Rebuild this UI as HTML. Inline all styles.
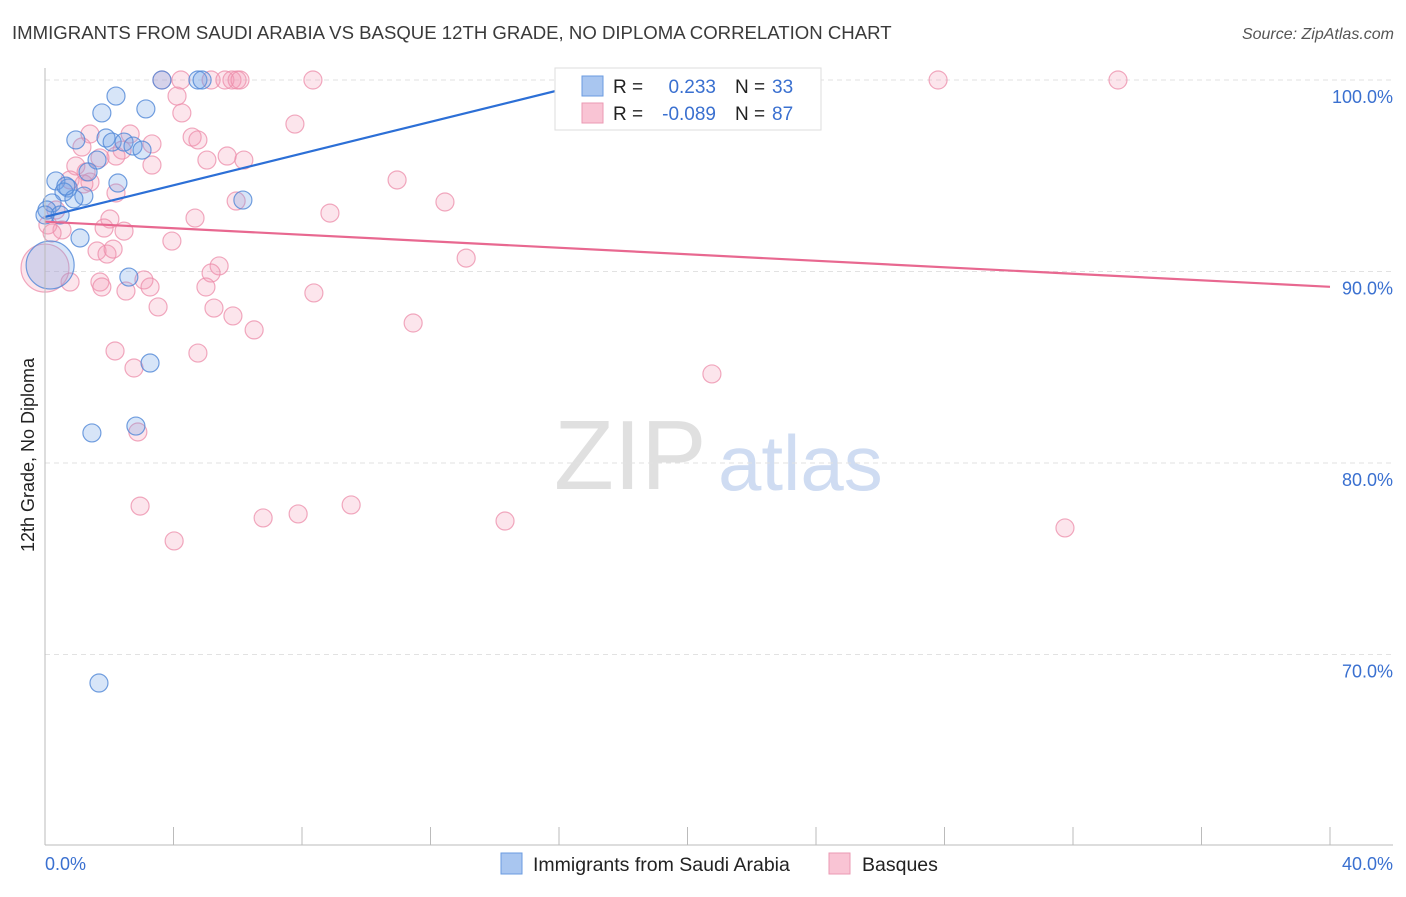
<!DOCTYPE html>
<html><head><meta charset="utf-8"><style>
body{margin:0;background:#fff;font-family:"Liberation Sans",sans-serif}
svg text{font-family:"Liberation Sans",sans-serif}
</style></head><body>
<svg id="c" width="1406" height="892" xmlns="http://www.w3.org/2000/svg">
<text x="12" y="39" font-size="18.6" fill="#3a3a3a">IMMIGRANTS FROM SAUDI ARABIA VS BASQUE 12TH GRADE, NO DIPLOMA CORRELATION CHART</text>
<text x="1394" y="39" font-size="16" fill="#555" font-style="italic" text-anchor="end">Source: ZipAtlas.com</text>
<text x="554" y="489" font-size="98" fill="#e0e0e0" font-family="Liberation Serif,serif">ZIP</text>
<text x="718" y="490" font-size="78" fill="#cfdcf2">atlas</text>
<g id="grid"></g><g id="pts"></g><g id="lines"></g>
<line x1="45" y1="68" x2="45" y2="845" stroke="#bbb"/>
<line x1="45" y1="845" x2="1393" y2="845" stroke="#bbb"/>
<text transform="translate(34,455) rotate(-90)" font-size="18" fill="#222" text-anchor="middle">12th Grade, No Diploma</text>
<text x="45" y="870" font-size="18" fill="#3a70d0">0.0%</text>
<text x="1393" y="870" font-size="18" fill="#3a70d0" text-anchor="end">40.0%</text>
<g>
<rect x="555" y="68" width="266" height="62" fill="#fff" stroke="#ddd"/>
<rect x="582" y="76" width="21" height="20" fill="#a9c6f0" stroke="#6a9be0"/>
<rect x="582" y="103" width="21" height="20" fill="#f9c4d4" stroke="#eb9ab3"/>
<text x="613" y="93" font-size="19" fill="#222">R =</text><text x="716" y="93" font-size="19" fill="#3a70d0" text-anchor="end">0.233</text>
<text x="735" y="93" font-size="19" fill="#222">N =</text><text x="772" y="93" font-size="19" fill="#3a70d0">33</text>
<text x="613" y="120" font-size="19" fill="#222">R =</text><text x="716" y="120" font-size="19" fill="#3a70d0" text-anchor="end">-0.089</text>
<text x="735" y="120" font-size="19" fill="#222">N =</text><text x="772" y="120" font-size="19" fill="#3a70d0">87</text>
</g>
<g><rect x="501" y="853" width="21" height="21" fill="#a9c6f0" stroke="#6a9be0"/><text x="533" y="871" font-size="19.5" fill="#222">Immigrants from Saudi Arabia</text></g>
<g><rect x="829" y="853" width="21" height="21" fill="#f9c4d4" stroke="#eb9ab3"/><text x="862" y="871" font-size="19.5" fill="#222">Basques</text></g>
</svg>
<script>
const blueX=[3.64,4.76,4.89,2.21,1.77,3.14,0.96,1.90,2.09,2.46,2.74,3.02,1.62,1.34,0.34,2.27,0.72,0.59,1.21,0.90,0.22,0.06,6.16,1.09,2.61,3.27,1.46,2.83,1.68,0.47,0,0.65,0.16];
const blueY=[100,100,100,99.16,98.28,98.49,96.87,96.97,96.76,96.76,96.55,96.34,95.82,95.20,94.73,94.62,94.36,94.15,93.94,93.79,93.58,93.21,93.73,91.75,89.71,85.22,81.57,81.93,68.51,92.95,92.95,94.46,90.34];
const pinkX=[3.64,4.23,5.17,5.60,5.82,5.98,6.07,8.34,27.8,33.4,4.11,4.26,7.78,1.40,2.65,4.58,4.76,1.15,2.40,3.33,2.21,1.71,5.67,5.04,6.19,3.33,0.96,1.28,0.78,1.40,1.21,2.21,10.96,5.95,12.45,8.87,2.02,4.67,0.34,0.09,0.53,1.84,2.46,3.95,0.22,1.62,1.93,2.12,13.11,5.42,5.17,3.08,0.78,1.71,1.77,2.52,3.27,5.01,3.52,5.26,5.85,6.51,8.37,11.46,2.18,4.76,2.77,20.76,2.89,2.96,6.79,7.88,9.53,14.32,31.75,4.02,0];
const pinkY=[100,100,100,100,100,100,100,100,100,100,99.16,98.28,97.70,97.18,97.18,97.02,96.87,96.50,96.34,96.66,96.03,95.93,96.03,95.82,95.82,95.56,95.51,95.20,94.78,94.67,94.57,94.10,94.78,93.68,93.63,93.05,92.74,92.79,93.21,92.43,92.17,92.27,92.11,91.59,92.01,91.07,90.91,91.17,90.70,90.29,89.92,89.56,89.45,89.45,89.19,88.98,89.19,89.19,88.15,88.09,87.68,86.95,88.88,87.31,85.85,85.74,84.96,84.65,81.62,77.75,77.13,77.34,77.81,76.97,76.61,75.93,90.18];
const yTicks=[100,90,80,70];
const yTickLabels=["100.0%","90.0%","80.0%","70.0%"];
const xTicks=[0,4,8,12,16,20,24,28,32,36,40];
const blueTrend=[[0,92.85],[17.28,100]];
const pinkTrend=[[0,92.6],[40,89.2]];
const NS="http://www.w3.org/2000/svg";
const sx=v=>45+v*32.125, sy=v=>80+(100-v)*19.15;
function mk(t,a,p){const e=document.createElementNS(NS,t);for(const k in a)e.setAttribute(k,a[k]);p.appendChild(e);return e;}
const grid=document.getElementById('grid'),pts=document.getElementById('pts'),lines=document.getElementById('lines'),svg=document.getElementById('c');
yTicks.forEach((t,i)=>{
 const l=mk('line',{x1:45,x2:1393,y1:sy(t),y2:sy(t),stroke:'#e2e2e2','stroke-dasharray':'5,4'},grid);
 
 
 const tx=mk('text',{x:1393,y:sy(t)+23,'font-size':18,fill:'#3a70d0','text-anchor':'end'},svg);
 tx.textContent=yTickLabels[i];
 
 
});
xTicks.forEach(t=>{
 const l=mk('line',{x1:sx(t),x2:sx(t),y1:827,y2:845,stroke:'#bbb'},svg);
 
 
});
function dots(X,Y,fill,stroke,name){
 X.forEach((x,i)=>{
  const big=(i===X.length-1);
  const c=mk('circle',{cx:sx(x),cy:sy(Y[i]),r:big?24:9,fill:fill,stroke:stroke,'stroke-width':1.2},pts);
  
  
 });
}
dots(pinkX,pinkY,'rgba(244,150,178,0.25)','rgba(236,140,170,0.75)','basques-point');
dots(blueX,blueY,'rgba(110,160,230,0.28)','rgba(80,135,215,0.8)','saudi-point');
const bl=mk('line',{x1:sx(blueTrend[0][0]),y1:sy(blueTrend[0][1]),x2:sx(blueTrend[1][0]),y2:sy(blueTrend[1][1]),stroke:'#2c6fd6','stroke-width':2.2},lines);


const pl=mk('line',{x1:sx(pinkTrend[0][0]),y1:sy(pinkTrend[0][1]),x2:sx(pinkTrend[1][0]),y2:sy(pinkTrend[1][1]),stroke:'#e86890','stroke-width':2.2},lines);


</script>
</body></html>
